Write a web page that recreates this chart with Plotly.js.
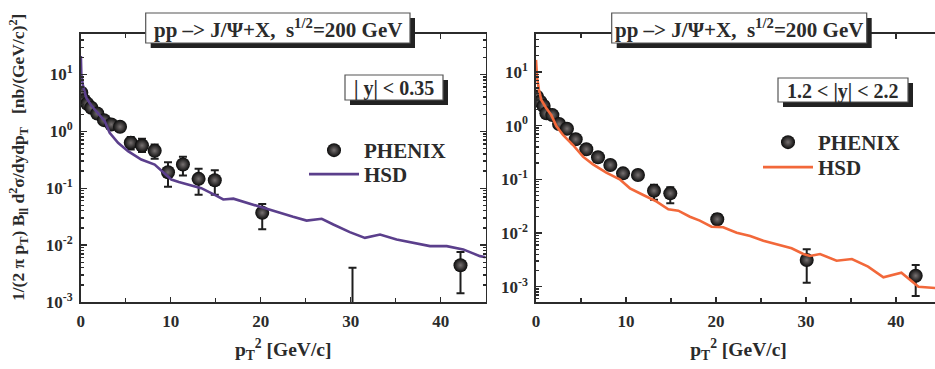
<!DOCTYPE html>
<html>
<head>
<meta charset="utf-8">
<script src="https://cdn.plot.ly/plotly-3.0.1.min.js"></script>
<style>html,body{margin:0;padding:0;overflow:hidden;background:#fff;}</style>
</head>
<body>
<div id="chart" style="width:945px;height:369px;"></div>
<script>
// ---------------- data ----------------
// Left panel: |y| < 0.35
const phenixLeftX = [0.07, 0.37, 0.73, 1.18, 1.84, 2.59, 3.40, 4.37, 5.56, 6.81, 8.22, 9.70, 11.36, 13.10, 14.90, 20.17, 30.20, 42.20];
const phenixLeftY = [4.75, 3.52, 3.04, 2.59, 2.06, 1.57, 1.32, 1.20, 0.628, 0.563, 0.454, 0.191, 0.261, 0.146, 0.138, 0.037, 0.0005, 0.00443];
const phenixLeftErrPlus  = [0.4, 0.3, 0.25, 0.2, 0.18, 0.15, 0.13, 0.15, 0.17, 0.18, 0.13, 0.095, 0.095, 0.073, 0.069, 0.016, 0.0035, 0.0031];
const phenixLeftErrMinus = [0.4, 0.3, 0.25, 0.2, 0.18, 0.15, 0.13, 0.15, 0.15, 0.13, 0.125, 0.085, 0.094, 0.069, 0.061, 0.018, 0.0004, 0.0030];

const hsdLeftX = [0.02, 0.07, 0.26, 0.62, 1.18, 1.92, 2.67, 3.22, 4.15, 5.26, 5.81, 6.73, 8.22, 10.07, 10.9, 11.92, 13.4, 15.0, 15.84, 16.96, 18.44, 20.3, 22.15, 23.6, 25.1, 26.78, 28.07, 29.9, 31.58, 33.26, 35.1, 36.96, 38.81, 40.67, 42.5, 44.37, 45];
const hsdLeftY = [21, 10, 6.2, 3.9, 2.84, 2.11, 1.51, 0.94, 0.628, 0.447, 0.391, 0.319, 0.26, 0.142, 0.128, 0.116, 0.1, 0.075, 0.0634, 0.0655, 0.0553, 0.0452, 0.0359, 0.0314, 0.027, 0.029, 0.023, 0.0169, 0.0134, 0.0153, 0.0125, 0.011, 0.0096, 0.0096, 0.0084, 0.0064, 0.0061];

// Right panel: 1.2 < |y| < 2.2
const phenixRightX = [0.11, 0.48, 0.85, 1.15, 1.82, 2.56, 3.44, 4.41, 5.59, 6.89, 8.26, 9.67, 11.33, 13.11, 14.92, 20.14, 30.08, 42.19];
const phenixRightY = [3.45, 2.79, 2.32, 1.69, 1.57, 1.07, 0.876, 0.556, 0.362, 0.257, 0.185, 0.129, 0.120, 0.0614, 0.0548, 0.0180, 0.00314, 0.00160];
const phenixRightErrPlus  = [0.3, 0.25, 0.2, 0.15, 0.14, 0.1, 0.08, 0.06, 0.04, 0.03, 0.025, 0.02, 0.02, 0.018, 0.016, 0.0046, 0.00183, 0.00094];
const phenixRightErrMinus = [0.3, 0.25, 0.2, 0.15, 0.14, 0.1, 0.08, 0.06, 0.04, 0.03, 0.025, 0.02, 0.02, 0.020, 0.019, 0.0049, 0.00195, 0.00093];

const hsdRightX = [0.0, 0.11, 0.33, 0.59, 1.15, 1.7, 2.26, 3.0, 4.11, 5.22, 6.33, 7.81, 9.3, 10.44, 11.92, 13.41, 14.7, 15.81, 17.1, 18.2, 19.5, 20.8, 22.3, 23.8, 25.26, 26.74, 28.4, 29.7, 30.44, 31.56, 33.4, 35.1, 36.9, 38.6, 40.6, 42.5, 44.3, 45];
const hsdRightY = [16.7, 8.1, 4.6, 3.0, 2.1, 1.57, 0.98, 0.668, 0.435, 0.264, 0.19, 0.133, 0.1, 0.068, 0.051, 0.0383, 0.0276, 0.026, 0.0201, 0.017, 0.0131, 0.0128, 0.0101, 0.0088, 0.0072, 0.0062, 0.0052, 0.00406, 0.00373, 0.00406, 0.00305, 0.00328, 0.00236, 0.0015, 0.00182, 0.001, 0.00093, 0.00093];

const xTickVals = [0, 10, 20, 30, 40];
const yTickVals = [0.001, 0.01, 0.1, 1, 10];
const yTickText = ['10<sup>-3</sup>', '10<sup>-2</sup>', '10<sup>-1</sup>', '10<sup>0</sup>', '10<sup>1</sup>'];
const titleText = 'pp \u2013> J/\u03A8+X,  s<sup>1/2</sup>=200 GeV';
const rapLeft = '| y| < 0.35';
const rapRight = '1.2 < |y| < 2.2';

// ---------------- layout helpers ----------------
const W = 945, H = 369;
const px = v => v / W;
const py = v => 1 - v / H;
const FONT = 'Liberation Serif, Times New Roman, serif';
const INK = '#2b2b2b';

function marker() {
  return {symbol: 'circle', size: 14, color: '#0a0a0a',
          gradient: {type: 'radial', color: '#777171'},
          line: {width: 0}};
}
function errs(plus, minus) {
  return {type: 'data', symmetric: false, array: plus, arrayminus: minus,
          color: '#1e1e1e', thickness: 2, width: 4};
}

const traces = [
  {x: phenixLeftX, y: phenixLeftY, type: 'scatter', mode: 'markers', name: 'PHENIX',
   marker: marker(), error_y: errs(phenixLeftErrPlus, phenixLeftErrMinus),
   xaxis: 'x', yaxis: 'y', legend: 'legend'},
  {x: hsdLeftX, y: hsdLeftY, type: 'scatter', mode: 'lines', name: 'HSD',
   line: {color: '#5b3f8c', width: 2.6}, xaxis: 'x', yaxis: 'y', legend: 'legend3'},
  {x: phenixRightX, y: phenixRightY, type: 'scatter', mode: 'markers', name: 'PHENIX',
   marker: marker(), error_y: errs(phenixRightErrPlus, phenixRightErrMinus),
   xaxis: 'x2', yaxis: 'y2', legend: 'legend2'},
  {x: hsdRightX, y: hsdRightY, type: 'scatter', mode: 'lines', name: 'HSD',
   line: {color: '#f2683a', width: 2.6}, xaxis: 'x2', yaxis: 'y2', legend: 'legend4'}
];

function xAxis(domain, anchor) {
  return {
    domain: domain, anchor: anchor, range: [0, 45], tickmode: 'array', tickvals: xTickVals,
    ticks: 'inside', ticklen: 5, tickwidth: 1.3, tickcolor: INK,
    showline: true, linecolor: INK, linewidth: 1.6, mirror: 'ticks',
    showgrid: false, zeroline: false,
    minor: {tickmode: 'linear', tick0: 5, dtick: 10, ticks: 'inside', ticklen: 4, tickcolor: INK, showgrid: false},
    tickfont: {family: FONT, size: 17, weight: 'bold', color: INK},
    ticklabelstandoff: 3,
    title: {text: 'p<sub>T</sub><sup>2</sup> [GeV/c]', standoff: 12,
            font: {family: FONT, size: 19.5, weight: 'bold', color: INK}}
  };
}
function yAxis(domain, anchor, range) {
  return {
    domain: domain, anchor: anchor, type: 'log', range: range,
    tickmode: 'array', tickvals: yTickVals, ticktext: yTickText,
    ticks: 'inside', ticklen: 6, tickwidth: 1.3, tickcolor: INK,
    showline: true, linecolor: INK, linewidth: 1.6, mirror: 'ticks',
    showgrid: false, zeroline: false,
    minor: {dtick: 'D1', ticks: 'inside', ticklen: 3, tickcolor: INK, showgrid: false},
    tickfont: {family: FONT, size: 17, weight: 'bold', color: INK},
    ticklabelstandoff: 3
  };
}

const yDom = [py(302), py(34)];
const legendFont = {family: FONT, size: 21, weight: 'bold', color: INK};
function legendAt(xp, yp) {
  return {x: px(xp), y: py(yp), xanchor: 'left', yanchor: 'top', bgcolor: 'rgba(0,0,0,0)',
          itemwidth: 50, tracegroupgap: 0, font: legendFont};
}
const layout = {
  width: W, height: H,
  margin: {l: 0, r: 0, t: 0, b: 0},
  paper_bgcolor: '#fff', plot_bgcolor: '#fff',
  showlegend: true,
  xaxis: xAxis([px(80.7), px(485.7)], 'y'),
  yaxis: yAxis(yDom, 'x', [-3.0, 1.71]),
  xaxis2: xAxis([px(536), px(941)], 'y2'),
  yaxis2: yAxis(yDom, 'x2', [-3.285, 1.706]),
  legend: legendAt(304, 130),
  legend3: legendAt(304, 154),
  legend2: legendAt(758, 122),
  legend4: legendAt(758, 147),
  shapes: [],
  annotations: []
};

function box(x0, y0, x1, y1, text, size) {
  layout.shapes.push({type: 'rect', xref: 'paper', yref: 'paper', layer: 'above',
    x0: px(x0 + 5), x1: px(x1 + 5), y0: py(y1 + 5), y1: py(y0 + 5),
    fillcolor: '#222', line: {width: 0}});
  layout.shapes.push({type: 'rect', xref: 'paper', yref: 'paper', layer: 'above',
    x0: px(x0), x1: px(x1), y0: py(y1), y1: py(y0),
    fillcolor: '#fff', line: {color: '#555', width: 1.2}});
  layout.annotations.push({xref: 'paper', yref: 'paper', x: px((x0 + x1) / 2), y: py((y0 + y1) / 2 + 1),
    xanchor: 'center', yanchor: 'middle', showarrow: false, text: text,
    font: {family: FONT, size: size, weight: 'bold', color: INK}});
}
box(145.7, 13, 410, 43, titleText, 21);
box(611.7, 13, 866.7, 43, titleText, 21);
box(345, 75, 443, 100, rapLeft, 20);
box(778, 78, 908, 102, rapRight, 20);

// y-axis title (left panel only)
layout.annotations.push({xref: 'paper', yref: 'paper', x: px(18), y: py(158),
  xanchor: 'center', yanchor: 'middle', textangle: -90, showarrow: false,
  text: '1/(2 \u03C0 p<sub>T</sub>) B<sub>ll</sub> d<sup>2</sup>\u03C3/dydp<sub>T</sub>   [nb/(GeV/c)<sup>2</sup>]',
  font: {family: FONT, size: 17.5, weight: 'bold', color: INK}});

Plotly.newPlot('chart', traces, layout, {displayModeBar: false, staticPlot: true});
</script>
</body>
</html>
